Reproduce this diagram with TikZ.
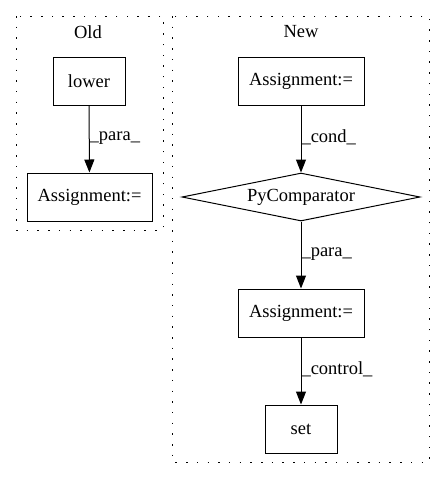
\documentclass[tikz,border=0pt]{standalone}
\usepackage{fontspec}
\setmainfont{Liberation Serif}
\usetikzlibrary{shapes.geometric,arrows.meta}
\begin{document}
\begin{tikzpicture}[x=1pt,y=-1pt,
  every node/.style={font=\fontsize{18.5}{22}\selectfont},
  box/.style={draw,line width=1pt,minimum height=48pt,inner sep=0pt},
  dia/.style={draw,line width=1pt,diamond,aspect=4.96,minimum width=238pt,minimum height=48pt,inner sep=0pt},
  cluster/.style={draw,line width=1pt,dash pattern=on 1.5pt off 9.2pt},
  edge/.style={draw,line width=1pt,-{Triangle[length=13pt,width=10pt]}},
  elabel/.style={anchor=west,inner sep=0pt}]
\useasboundingbox (0,0) rectangle (445,480);
\draw[cluster] (16,16) rectangle (163,230);
\draw[cluster] (172,16) rectangle (429,462);
\node (oldlbl) at (88,32) {Old};
\node (newlbl) at (301,32) {New};
\node[box,minimum width=72pt] (lower) at (89,81) {lower};
\node[box,minimum width=125pt] (oa) at (89.5,197) {Assignment:=};
\node[box,minimum width=126pt] (na) at (301,81) {Assignment:=};
\node[dia] (pc) at (301,197) {PyComparator};
\node[box,minimum width=126pt] (nb) at (301,313) {Assignment:=};
\node[box,minimum width=72pt] (set) at (301,429) {set};
\draw[edge] (lower) -- node[elabel,pos=0.48] {\_para\_} (oa);
\draw[edge] (na) -- node[elabel,pos=0.48] {\_cond\_} (pc);
\draw[edge] (pc) -- node[elabel,pos=0.48] {\_para\_} (nb);
\draw[edge] (nb) -- node[elabel,pos=0.48] {\_control\_} (set);
\end{tikzpicture}
\end{document}
